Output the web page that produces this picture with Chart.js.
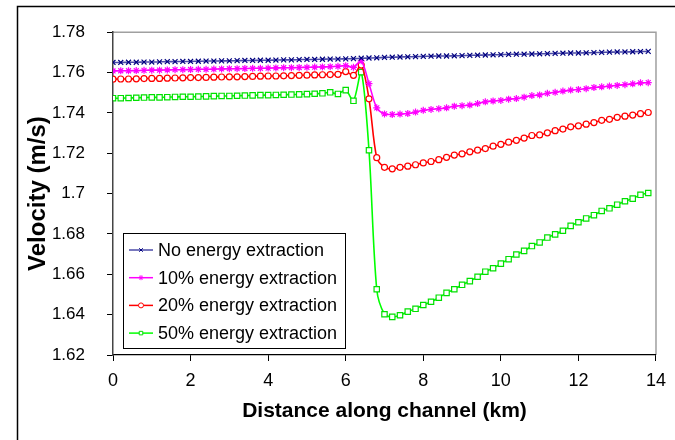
<!DOCTYPE html>
<html>
<head>
<meta charset="utf-8">
<script src="https://cdn.jsdelivr.net/npm/chart.js@4/dist/chart.umd.min.js"></script>
<style>
  html, body { margin: 0; padding: 0; background: #fff; }
  #wrap { width: 675px; height: 440px; }
</style>
</head>
<body>
<div id="wrap"><canvas id="chart__velocity" width="675" height="440"></canvas></div>
<script>
// distance along channel, km (one point every 0.2 km)
const distanceKm = [
  0, 0.2, 0.4, 0.6, 0.8, 1, 1.2, 1.4, 1.6, 1.8,
  2, 2.2, 2.4, 2.6, 2.8, 3, 3.2, 3.4, 3.6, 3.8,
  4, 4.2, 4.4, 4.6, 4.8, 5, 5.2, 5.4, 5.6, 5.8,
  6, 6.2, 6.4, 6.6, 6.8, 7, 7.2, 7.4, 7.6, 7.8,
  8, 8.2, 8.4, 8.6, 8.8, 9, 9.2, 9.4, 9.6, 9.8,
  10, 10.2, 10.4, 10.6, 10.8, 11, 11.2, 11.4, 11.6, 11.8,
  12, 12.2, 12.4, 12.6, 12.8, 13, 13.2, 13.4, 13.6, 13.8
]

const noExtraction = [
  1.7650, 1.7650, 1.7651, 1.7651, 1.7652, 1.7652, 1.7653, 1.7654, 1.7654, 1.7655,
  1.7655, 1.7656, 1.7657, 1.7657, 1.7658, 1.7658, 1.7659, 1.7660, 1.7660, 1.7661,
  1.7661, 1.7662, 1.7663, 1.7663, 1.7664, 1.7665, 1.7665, 1.7666, 1.7667, 1.7667,
  1.7668, 1.7669, 1.7671, 1.7672, 1.7673, 1.7675, 1.7676, 1.7677, 1.7678, 1.7679,
  1.7680, 1.7681, 1.7682, 1.7682, 1.7683, 1.7684, 1.7685, 1.7686, 1.7687, 1.7688,
  1.7689, 1.7690, 1.7691, 1.7691, 1.7692, 1.7693, 1.7694, 1.7695, 1.7696, 1.7697,
  1.7697, 1.7698, 1.7699, 1.7700, 1.7701, 1.7702, 1.7702, 1.7703, 1.7704, 1.7705
]

const extraction10 = [
  1.7608, 1.7609, 1.7609, 1.7610, 1.7611, 1.7612, 1.7612, 1.7613, 1.7614, 1.7614,
  1.7615, 1.7616, 1.7616, 1.7617, 1.7618, 1.7619, 1.7619, 1.7620, 1.7621, 1.7621,
  1.7622, 1.7623, 1.7624, 1.7624, 1.7625, 1.7626, 1.7627, 1.7628, 1.7629, 1.7631,
  1.7634, 1.7626, 1.7658, 1.7545, 1.7425, 1.7395, 1.7392, 1.7394, 1.7397, 1.7404,
  1.7413, 1.7417, 1.7421, 1.7425, 1.7433, 1.7436, 1.7439, 1.7446, 1.7455, 1.7459,
  1.7462, 1.7468, 1.7471, 1.7478, 1.7486, 1.7489, 1.7497, 1.7502, 1.7508, 1.7513,
  1.7516, 1.7520, 1.7526, 1.7529, 1.7533, 1.7536, 1.7540, 1.7544, 1.7549, 1.7550
]

const extraction20 = [
  1.7567, 1.7568, 1.7568, 1.7569, 1.7570, 1.7571, 1.7571, 1.7572, 1.7573, 1.7574,
  1.7575, 1.7575, 1.7576, 1.7577, 1.7578, 1.7579, 1.7579, 1.7580, 1.7581, 1.7582,
  1.7583, 1.7583, 1.7584, 1.7585, 1.7586, 1.7587, 1.7588, 1.7589, 1.7590, 1.7591,
  1.7605, 1.7586, 1.7637, 1.7470, 1.7178, 1.7130, 1.7123, 1.7130, 1.7136, 1.7143,
  1.7152, 1.7159, 1.7168, 1.7180, 1.7191, 1.7197, 1.7207, 1.7215, 1.7223, 1.7235,
  1.7244, 1.7255, 1.7264, 1.7275, 1.7288, 1.7291, 1.7301, 1.7312, 1.7320, 1.7331,
  1.7336, 1.7344, 1.7352, 1.7363, 1.7368, 1.7378, 1.7384, 1.7389, 1.7396, 1.7402
]

const extraction50 = [
  1.7473, 1.7473, 1.7474, 1.7475, 1.7476, 1.7477, 1.7477, 1.7478, 1.7479, 1.7480,
  1.7480, 1.7481, 1.7482, 1.7483, 1.7484, 1.7484, 1.7485, 1.7486, 1.7487, 1.7488,
  1.7488, 1.7489, 1.7490, 1.7491, 1.7492, 1.7493, 1.7495, 1.7497, 1.7502, 1.7494,
  1.7513, 1.7460, 1.7602, 1.7215, 1.6526, 1.6402, 1.6389, 1.6397, 1.6415, 1.6429,
  1.6448, 1.6464, 1.6484, 1.6508, 1.6526, 1.6548, 1.6566, 1.6588, 1.6613, 1.6630,
  1.6653, 1.6675, 1.6698, 1.6716, 1.6740, 1.6758, 1.6782, 1.6798, 1.6816, 1.6840,
  1.6858, 1.6877, 1.6893, 1.6914, 1.6927, 1.6945, 1.6962, 1.6975, 1.6994, 1.7003
]

const seriesLabels = ['No energy extraction', '10% energy extraction', '20% energy extraction', '50% energy extraction']
const xTicks = [0, 2, 4, 6, 8, 10, 12, 14]
const yTicks = [1.62, 1.64, 1.66, 1.68, 1.7, 1.72, 1.74, 1.76, 1.78]

const FONT = 'Arial, "Liberation Sans", sans-serif'

const toPoints = values => values.map((v, i) => ({ x: distanceKm[i], y: v }))

const styles = [
  { line: '#4b4ba8', mark: '#000080', fill: '#000080', pointStyle: 'crossRot', radius: 3.5 },
  { line: '#ff00ff', mark: '#ff00ff', fill: '#ff00ff', pointStyle: 'star', radius: 3.5 },
  { line: '#ff0000', mark: '#ff0000', fill: '#ffffff', pointStyle: 'circle', radius: 3 },
  { line: '#00ff00', mark: '#00e000', fill: '#ffffff', pointStyle: 'rect', radius: 3.8 }
]

const allValues = [noExtraction, extraction10, extraction20, extraction50]

// white page, outer frame, grey plot border
const framePlugin = {
  id: 'frame',
  beforeDraw(chart) {
    const { ctx, chartArea: a } = chart
    ctx.save()
    ctx.fillStyle = '#fff'
    ctx.fillRect(0, 0, chart.width, chart.height)
    ctx.strokeStyle = '#000'
    ctx.lineWidth = 1.5
    ctx.strokeRect(17.5, 6.5, 700, 500)
    ctx.strokeStyle = '#a0a0a0'
    ctx.lineWidth = 1.5
    ctx.beginPath()
    ctx.moveTo(a.left, a.top)
    ctx.lineTo(a.right, a.top)
    ctx.lineTo(a.right, a.bottom)
    ctx.stroke()
    ctx.restore()
  },
  afterDraw(chart) {
    // legend box inside the plot, bottom-left
    const { ctx } = chart
    const box = { x: 123.5, y: 233.5, w: 222, h: 115 }
    ctx.save()
    ctx.fillStyle = '#fff'
    ctx.fillRect(box.x, box.y, box.w, box.h)
    ctx.strokeStyle = '#000'
    ctx.lineWidth = 1
    ctx.strokeRect(box.x, box.y, box.w, box.h)
    chart.data.datasets.forEach((ds, i) => {
      const y = 250 + i * 27.7
      ctx.strokeStyle = ds.borderColor
      ctx.lineWidth = 1.5
      ctx.beginPath()
      ctx.moveTo(129, y)
      ctx.lineTo(153, y)
      ctx.stroke()
      ctx.fillStyle = ds.pointBackgroundColor
      ctx.strokeStyle = ds.pointBorderColor
      ctx.lineWidth = 1
      if (Chart.helpers && Chart.helpers.drawPoint) {
        Chart.helpers.drawPoint(ctx, { pointStyle: ds.pointStyle, radius: 2.5, borderWidth: 1, rotation: 0 }, 141, y)
      }
      ctx.fillStyle = '#000'
      ctx.font = '18px ' + FONT
      ctx.textBaseline = 'middle'
      ctx.textAlign = 'left'
      ctx.fillText(ds.label, 158, y + 1)
    })
    ctx.restore()
  }
}

new Chart(
  document.getElementById('chart__velocity'),
  {
    type: 'line',
    data: {
      datasets: allValues.map((values, i) => ({
        label: seriesLabels[i],
        data: toPoints(values),
        borderColor: styles[i].line,
        borderWidth: 1.6,
        pointStyle: styles[i].pointStyle,
        pointRadius: styles[i].radius,
        pointBorderColor: styles[i].mark,
        pointBackgroundColor: styles[i].fill,
        pointBorderWidth: 1.2,
        tension: 0.3,
        fill: false
      }))
    },
    options: {
      responsive: false,
      animation: false,
      layout: { padding: { left: 0, top: 24, right: 10, bottom: 0 } },
      plugins: {
        legend: { display: false },
        tooltip: { enabled: false }
      },
      scales: {
        x: {
          type: 'linear',
          min: 0,
          max: 14,
          afterBuildTicks: s => { s.ticks = xTicks.map(v => ({ value: v })) },
          afterFit: s => { s.height = 85 },
          ticks: { color: '#000', font: { family: FONT, size: 18 }, padding: 9, maxRotation: 0 },
          grid: { drawOnChartArea: false, tickLength: 6, color: '#000' },
          border: { color: '#000', width: 1.2 },
          title: {
            display: true,
            text: 'Distance along channel (km)',
            color: '#000',
            font: { family: FONT, size: 21, weight: 'bold' },
            padding: { top: 0, bottom: 16 }
          }
        },
        y: {
          min: 1.62,
          max: 1.78,
          afterBuildTicks: s => { s.ticks = yTicks.map(v => ({ value: v })) },
          afterFit: s => { s.width = 113 },
          ticks: {
            color: '#000',
            font: { family: FONT, size: 17 },
            padding: 22,
            callback: v => String(parseFloat(Number(v).toFixed(2)))
          },
          grid: { drawOnChartArea: false, tickLength: 6, color: '#000' },
          border: { color: '#444', width: 1.5 },
          title: {
            display: true,
            text: 'Velocity (m/s)',
            color: '#000',
            font: { family: FONT, size: 24, weight: 'bold' },
            padding: { top: 24, bottom: 0 }
          }
        }
      }
    },
    plugins: [framePlugin]
  }
)
</script>
</body>
</html>
